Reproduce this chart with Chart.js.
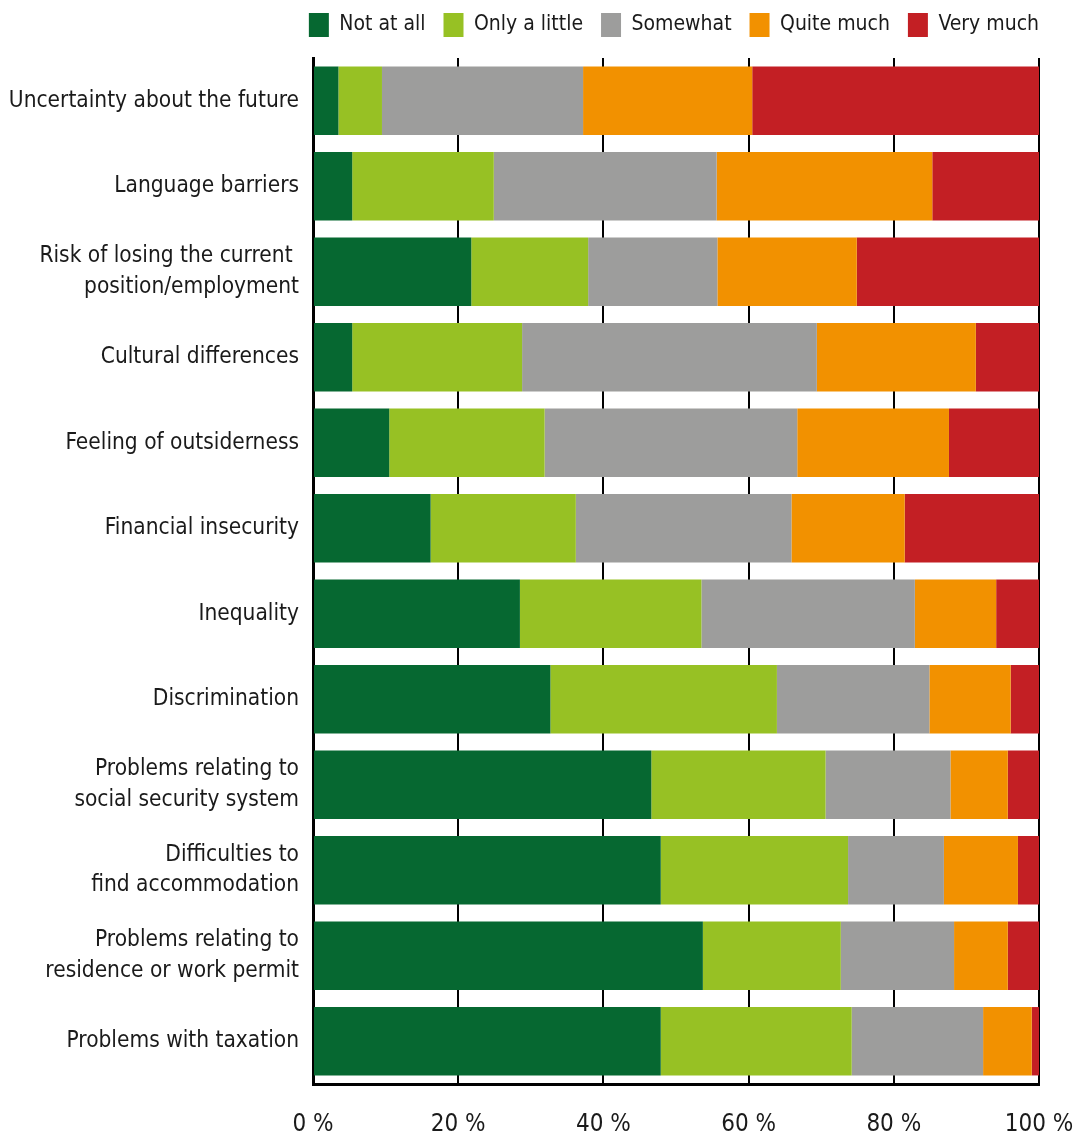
<!DOCTYPE html>
<html lang="en">
<head>
    <meta charset="UTF-8">
    <title>Stress factors</title>
    <script src="https://cdn.jsdelivr.net/npm/chart.js"></script>
    <style>
        body {
            margin: 0;
            padding: 0;
            background-color: white;
        }

        #wrap {
            width: 1083px;
            height: 1141px;
        }
    </style>
</head>
<body>
    <div id="wrap">
        <canvas id="stressChart" width="1083" height="1141"></canvas>
    </div>

    <script>
        // Chart data (shares in %)
        var categories = [
            'Uncertainty about the future',
            'Language barriers',
            ['Risk of losing the current ', 'position/employment'],
            'Cultural differences',
            'Feeling of outsiderness',
            'Financial insecurity',
            'Inequality',
            'Discrimination',
            ['Problems relating to', 'social security system'],
            ['Difficulties to', 'find accommodation'],
            ['Problems relating to', 'residence or work permit'],
            'Problems with taxation'
        ];
        var seriesNames = ['Not at all', 'Only a little', 'Somewhat', 'Quite much', 'Very much'];
        var notAtAll = [3.5, 5.4, 21.8, 5.4, 10.5, 16.2, 28.5, 32.7, 46.6, 47.9, 53.7, 47.9];
        var onlyALittle = [6.0, 19.5, 16.1, 23.4, 21.4, 20.0, 25.0, 31.2, 24.0, 25.8, 19.0, 26.3];
        var somewhat = [27.7, 30.7, 17.8, 40.6, 34.8, 29.7, 29.4, 21.0, 17.2, 13.2, 15.6, 18.1];
        var quiteMuch = [23.3, 29.7, 19.2, 21.9, 20.9, 15.6, 11.2, 11.2, 7.9, 10.2, 7.4, 6.7];
        var veryMuch = [39.5, 14.7, 25.1, 8.7, 12.4, 18.5, 5.9, 3.9, 4.3, 2.9, 4.3, 1.0];
        var xTicks = [0, 20, 40, 60, 80, 100];

        var colors = ['#066831', '#97c124', '#9d9d9c', '#f29100', '#c31f24'];
        var values = [notAtAll, onlyALittle, somewhat, quiteMuch, veryMuch];

        Chart.defaults.font.family = "'DejaVu Sans Condensed', 'Liberation Sans Narrow', sans-serif";
        Chart.defaults.color = '#1a1a1a';

        // fixed legend height so the plot starts where it does in the original,
        // legend row nudged so it lines up with the plot
        var legendPlace = {
            id: 'legendPlace',
            beforeInit: function (chart) {
                var fit = chart.legend.fit;
                chart.legend.fit = function () {
                    fit.bind(chart.legend)();
                    this.height = 58;
                };
            },
            afterLayout: function (chart) {
                chart.legend.top = -5;
                chart.legend.left += 18;
                chart.legend.right += 18;
            }
        };

        var ctx = document.getElementById('stressChart').getContext('2d');
        var stressChart = new Chart(ctx, {
            type: 'bar',
            data: {
                labels: categories,
                datasets: seriesNames.map(function (name, i) {
                    return {
                        label: name,
                        data: values[i],
                        backgroundColor: colors[i],
                        borderWidth: 0,
                        barPercentage: 0.8,
                        categoryPercentage: 1.0
                    };
                })
            },
            options: {
                indexAxis: 'y',
                responsive: false,
                animation: false,
                layout: {
                    padding: { left: 0, right: 44, top: 0, bottom: 0 }
                },
                plugins: {
                    legend: {
                        position: 'top',
                        align: 'end',
                        labels: {
                            boxWidth: 20,
                            boxHeight: 24,
                            padding: 18,
                            font: { size: 21 },
                            color: '#1a1a1a'
                        }
                    },
                    tooltip: { enabled: false }
                },
                scales: {
                    x: {
                        stacked: true,
                        min: 0,
                        max: 100,
                        afterBuildTicks: function (scale) {
                            scale.ticks = xTicks.map(function (v) { return { value: v }; });
                        },
                        afterFit: function (scale) {
                            scale.height = 57;
                        },
                        ticks: {
                            padding: 4,
                            // tall line box pushes the labels down without widening the side padding
                            font: { size: 24, lineHeight: 3.1 },
                            color: '#1a1a1a',
                            callback: function (v) { return v + ' %'; }
                        },
                        grid: {
                            color: '#000',
                            lineWidth: 2,
                            drawTicks: false
                        },
                        border: {
                            color: '#000',
                            width: 3
                        }
                    },
                    y: {
                        stacked: true,
                        afterFit: function (scale) {
                            scale.width = 313;
                        },
                        ticks: {
                            padding: 14,
                            font: { size: 22.5, lineHeight: 1.35 },
                            color: '#1a1a1a'
                        },
                        grid: {
                            display: false,
                            drawTicks: false
                        },
                        border: {
                            color: '#000',
                            width: 3
                        }
                    }
                }
            },
            plugins: [legendPlace]
        });
    </script>
</body>
</html>
